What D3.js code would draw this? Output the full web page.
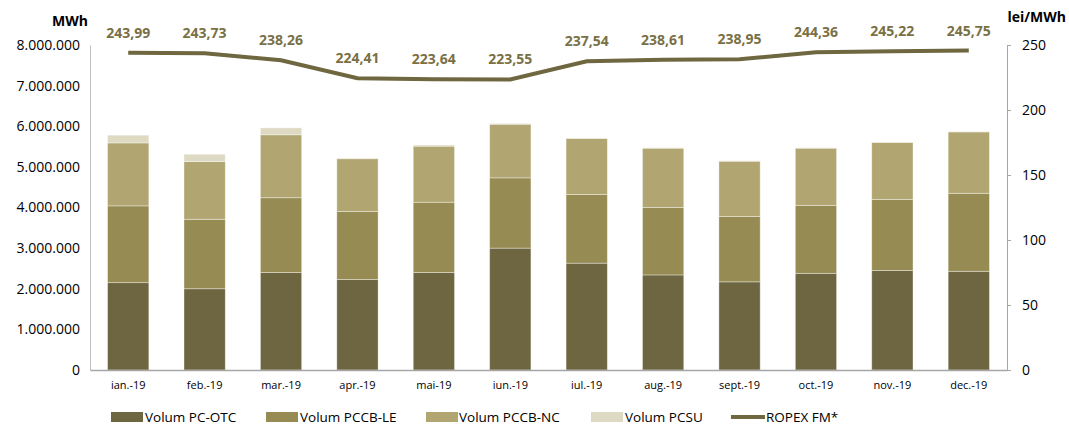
<!DOCTYPE html>
<html>
<head>
<meta charset="utf-8">
<script src="https://d3js.org/d3.v7.min.js"></script>
<style>
  body { margin: 0; background: #fff; }
  svg text { font-family: "Open Sans", "Liberation Sans", sans-serif; fill: #000; }
  .val-label { font-weight: bold; fill: #7a7045; }
</style>
</head>
<body>
<svg id="chart" width="1069" height="426"></svg>
<script>
// months on the x axis
const months = ["ian.-19","feb.-19","mar.-19","apr.-19","mai-19","iun.-19","iul.-19","aug.-19","sept.-19","oct.-19","nov.-19","dec.-19"];

// volumes in MWh
const volPCOTC  = [2150000, 2000000, 2400000, 2230000, 2400000, 3000000, 2630000, 2340000, 2170000, 2380000, 2450000, 2430000];
const volPCCBLE = [1890000, 1710000, 1840000, 1670000, 1730000, 1730000, 1690000, 1660000, 1610000, 1670000, 1750000, 1920000];
const volPCCBNC = [1550000, 1420000, 1550000, 1300000, 1380000, 1320000, 1380000, 1460000, 1360000, 1410000, 1400000, 1510000];
const volPCSU   = [190000, 180000, 170000, 20000, 30000, 20000, 10000, 10000, 10000, 10000, 10000, 5000];

// ROPEX FM price, lei/MWh
const ropex = [243.99, 243.73, 238.26, 224.41, 223.64, 223.55, 237.54, 238.61, 238.95, 244.36, 245.22, 245.75];

const seriesNames = ["Volum PC-OTC", "Volum PCCB-LE", "Volum PCCB-NC", "Volum PCSU"];
const seriesColors = ["#6e6640", "#968b52", "#b1a671", "#ddd9c3"];
const lineColor = "#6e6740";

const leftTicks = [0, 1000000, 2000000, 3000000, 4000000, 5000000, 6000000, 7000000, 8000000];
const rightTicks = [0, 50, 100, 150, 200, 250];

const svg = d3.select("#chart");
const margin = {left: 90, right: 62, top: 45, bottom: 56};
const W = 1069, H = 426;

const x = d3.scaleBand().domain(months).range([margin.left, W - margin.right]).paddingInner(0.46).paddingOuter(0.23);
const yL = d3.scaleLinear().domain([0, 8000000]).range([H - margin.bottom, margin.top]);
const yR = d3.scaleLinear().domain([0, 250]).range([H - margin.bottom, margin.top]);

// stacked data
const rows = months.map((m, i) => ({
  month: m,
  "Volum PC-OTC": volPCOTC[i],
  "Volum PCCB-LE": volPCCBLE[i],
  "Volum PCCB-NC": volPCCBNC[i],
  "Volum PCSU": volPCSU[i]
}));
const stacked = d3.stack().keys(seriesNames)(rows);

svg.append("g").selectAll("g").data(stacked).join("g")
  .attr("fill", (d, i) => seriesColors[i])
  .selectAll("rect").data(d => d).join("rect")
    .attr("x", d => x(d.data.month))
    .attr("width", x.bandwidth())
    .attr("y", d => yL(d[1]))
    .attr("height", d => yL(d[0]) - yL(d[1]))
    .attr("stroke", "rgba(255,255,255,0.45)")
    .attr("stroke-width", 0.8);

// left axis
const gL = svg.append("g").attr("transform", `translate(${margin.left},0)`)
  .call(d3.axisLeft(yL).tickValues(leftTicks).tickSize(0).tickPadding(10)
    .tickFormat(d => d3.format(",")(d).replace(/,/g, ".")));
gL.select(".domain").attr("stroke", "#bfbfbf");
gL.selectAll("text").style("font-size", "14px");

// right axis
const gR = svg.append("g").attr("transform", `translate(${W - margin.right},0)`)
  .call(d3.axisRight(yR).tickValues(rightTicks).tickSize(4).tickPadding(11));
gR.select(".domain").attr("stroke", "#a6a6a6");
gR.selectAll(".tick line").attr("stroke", "#a6a6a6");
gR.selectAll("text").style("font-size", "14px");

// bottom axis
const gB = svg.append("g").attr("transform", `translate(0,${H - margin.bottom})`)
  .call(d3.axisBottom(x).tickSize(0).tickPadding(11));
gB.select(".domain").attr("stroke", "#a6a6a6").attr("stroke-width", 1.5);
gB.selectAll("text").style("font-size", "11px");

// axis titles
svg.append("text").attr("x", 88).attr("y", 26).attr("text-anchor", "end")
  .style("font-size", "14px").style("font-weight", "bold").text("MWh");
svg.append("text").attr("x", 1066).attr("y", 22).attr("text-anchor", "end")
  .style("font-size", "14px").style("font-weight", "bold").text("lei/MWh");

// ROPEX line
const line = d3.line().x((d, i) => x(months[i]) + x.bandwidth() / 2).y(d => yR(d));
svg.append("path").datum(ropex)
  .attr("d", line).attr("fill", "none")
  .attr("stroke", lineColor).attr("stroke-width", 4);

svg.append("g").selectAll("text").data(ropex).join("text")
  .attr("class", "val-label")
  .attr("x", (d, i) => x(months[i]) + x.bandwidth() / 2)
  .attr("y", d => yR(d) - 15)
  .attr("text-anchor", "middle")
  .style("font-size", "14px")
  .text(d => d3.format(".2f")(d).replace(".", ","));

// legend
const legY = 417;
const legItems = [
  {name: "Volum PC-OTC", color: seriesColors[0], x: 111, tx: 145},
  {name: "Volum PCCB-LE", color: seriesColors[1], x: 266, tx: 300},
  {name: "Volum PCCB-NC", color: seriesColors[2], x: 426, tx: 459},
  {name: "Volum PCSU", color: seriesColors[3], x: 591, tx: 625},
  {name: "ROPEX FM*", color: lineColor, x: 731, tx: 766, line: true}
];
const leg = svg.append("g").selectAll("g").data(legItems).join("g");
leg.filter(d => !d.line).append("rect")
  .attr("x", d => d.x).attr("y", legY - 5).attr("width", 32).attr("height", 10)
  .attr("fill", d => d.color);
leg.filter(d => d.line).append("line")
  .attr("x1", d => d.x).attr("x2", d => d.tx - 1).attr("y1", legY).attr("y2", legY)
  .attr("stroke", d => d.color).attr("stroke-width", 4);
leg.append("text").attr("x", d => d.tx).attr("y", legY).attr("dy", "0.35em")
  .style("font-size", "13.5px").text(d => d.name);
</script>
</body>
</html>
